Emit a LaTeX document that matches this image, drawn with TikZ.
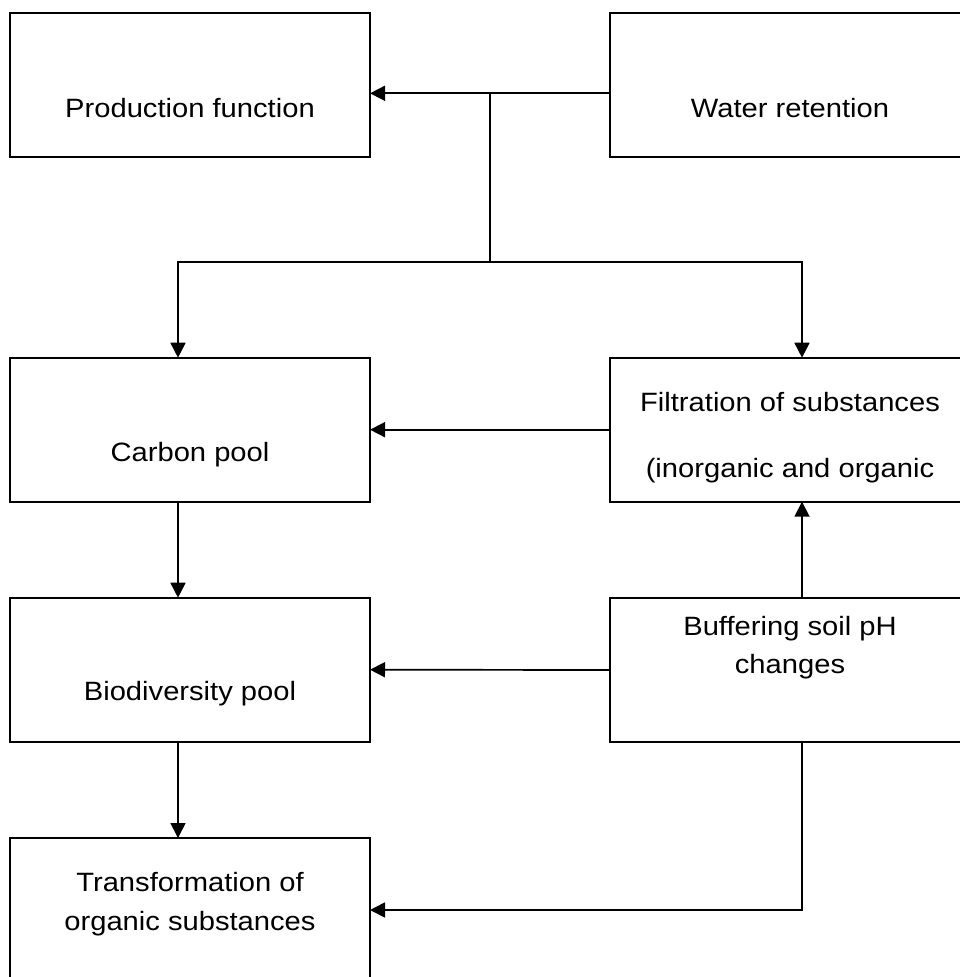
\documentclass[tikz,border=0pt]{standalone}
\usepackage{fontspec}
\setmainfont{Liberation Sans}[FakeStretch=1.1]
\usetikzlibrary{arrows.meta,calc}
\begin{document}
\begin{tikzpicture}[x=1pt,y=-1pt,
  box/.style={draw, line width=1.7pt, minimum width=360pt, minimum height=144pt,
    inner sep=0pt, outer sep=0pt, anchor=north west},
  lbl/.style={font=\fontsize{26.5}{38.3}\selectfont, align=center, anchor=base, inner sep=0pt},
  conn/.style={line width=1.7pt},
  arr/.style={conn, -{Triangle[length=15pt,width=15pt]}}]
\useasboundingbox (0,0) rectangle (960,977);
\clip (0,0) rectangle (960,977);
% boxes
\node[box] (prod)   at (10,13.3)  {};
\node[box] (water)  at (610,13.3) {};
\node[box] (carbon) at (10,357.7) {};
\node[box] (filt)   at (610,357.7) {};
\node[box] (biodiv) at (10,597.7) {};
\node[box] (buffer) at (610,598) {};
\node[box] (trans)  at (10,838) {};
% labels (base anchor = baseline of the last line)
\node[lbl] (prodt)   at ($(prod.north)+(0,104)$)    {Production function};
\node[lbl] (watert)  at ($(water.north)+(0,104)$)   {Water retention};
\node[lbl] (carbont) at ($(carbon.north)+(0,104)$)  {Carbon pool};
\node[lbl] (filtt)   at ($(filt.north)+(0,119.6)$)  {Filtration of substances\\[27.3pt](inorganic and organic};
\node[lbl] (biodivt) at ($(biodiv.north)+(0,103)$)  {Biodiversity pool};
\node[lbl] (buffert) at ($(buffer.north)+(0,75.3)$) {Buffering soil pH\\changes};
\node[lbl] (transt)  at ($(trans.north)+(0,92)$)    {Transformation of\\organic substances};
% connectors
\coordinate (j1) at (490,93.3);
\coordinate (j2) at (490,262);
\coordinate (cl) at (178,262);
\coordinate (cr) at (802,262);
\coordinate (bt) at (802,910);
\draw[arr] ([yshift=-8pt]water.west) -- ([yshift=-8pt]prod.east);
\draw[conn] (j1) -- (j2);
\draw[arr] (j2) -- (cl) -- (cl |- carbon.north);
\draw[arr] (j2) -- (cr) -- (cr |- filt.north);
\draw[arr] (filt.west) -- (carbon.east);
\draw[arr] (cl |- carbon.south) -- (cl |- biodiv.north);
\draw[arr] (cr |- buffer.north) -- (cr |- filt.south);
\draw[arr] (buffer.west) -- (biodiv.east);
\draw[arr] (cl |- biodiv.south) -- (cl |- trans.north);
\draw[arr] (cr |- buffer.south) -- (bt) -- (bt -| trans.east);
\end{tikzpicture}
\end{document}
